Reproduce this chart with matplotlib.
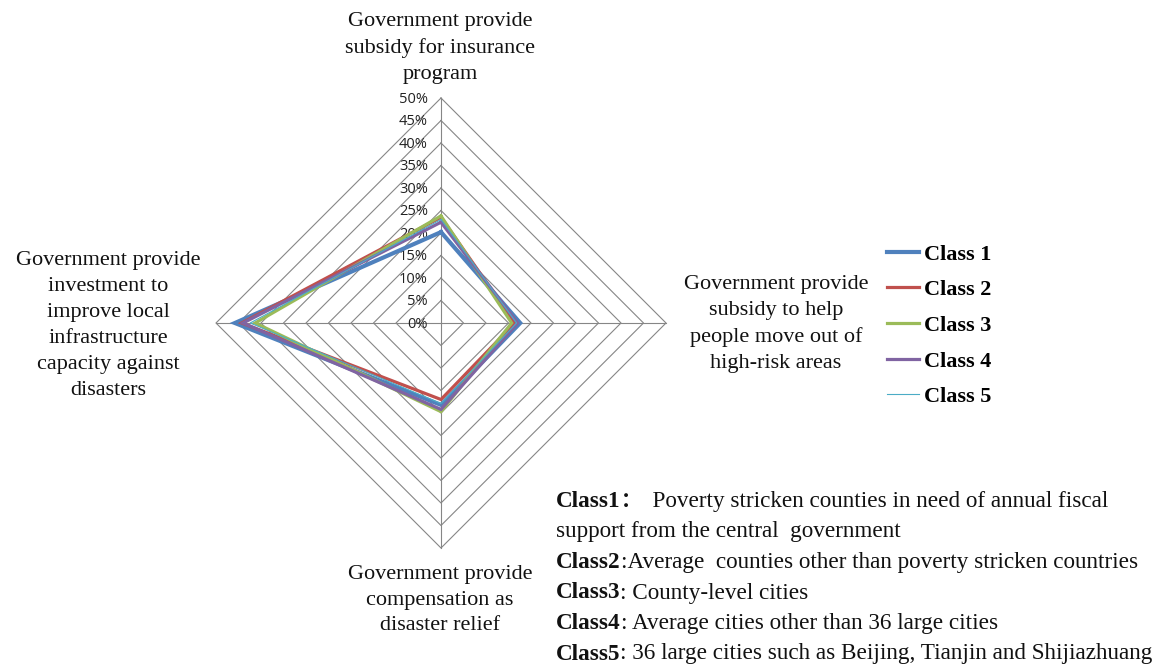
import numpy as np
import matplotlib
matplotlib.use("Agg")
import matplotlib.pyplot as plt

# Radar axes (clockwise from top)
categories = [
    "Government provide\nsubsidy for insurance\nprogram",
    "Government provide\nsubsidy to help\npeople move out of\nhigh-risk areas",
    "Government provide\ncompensation as\ndisaster relief",
    "Government provide\ninvestment to\nimprove local\ninfrastructure\ncapacity against\ndisasters",
]
series_names = ["Class 1", "Class 2", "Class 3", "Class 4", "Class 5"]
class1 = [20.2, 17.6, 18.2, 45.8]
class2 = [23.5, 16.4, 17.0, 44.3]
class3 = [23.8, 15.7, 19.7, 41.3]
class4 = [22.4, 17.0, 19.2, 44.0]
class5 = [23.0, 16.8, 17.9, 42.4]
tick_values = [0, 5, 10, 15, 20, 25, 30, 35, 40, 45, 50]
tick_labels = [f"{v}%" for v in tick_values]

notes = [
    ("Class1", "：", "  Poverty stricken counties in need of annual fiscal"),
    ("", "", "support from the central  government"),
    ("Class2", "", ":Average  counties other than poverty stricken countries"),
    ("Class3", "", ": County-level cities"),
    ("Class4", "", ": Average cities other than 36 large cities"),
    ("Class5", "", ": 36 large cities such as Beijing, Tianjin and Shijiazhuang"),
]

colors = ["#4F81BD", "#C0504D", "#9BBB59", "#8064A2", "#4BACC6"]
widths = [3.0, 2.3, 2.3, 2.3, 0.8]

W, H = 1165, 666
CX, CY, SCALE = 441, 323, 4.5  # centre pixel and pixels per percent

fig = plt.figure(figsize=(W / 100, H / 100), dpi=100)
ax = fig.add_axes([0, 0, 1, 1])
ax.set_xlim(-CX / SCALE, (W - CX) / SCALE)
ax.set_ylim(-(H - CY) / SCALE, CY / SCALE)
ax.axis("off")

# direction unit vectors: top, right, bottom, left
dirs = np.array([[0, 1], [1, 0], [0, -1], [-1, 0]], dtype=float)

grid_col = "#868686"
for v in tick_values[1:]:
    pts = np.vstack([dirs * v, dirs[:1] * v])
    ax.plot(pts[:, 0], pts[:, 1], color=grid_col, lw=0.8, zorder=1)
rmax = tick_values[-1]
for d in dirs:
    ax.plot([0, d[0] * rmax], [0, d[1] * rmax], color=grid_col, lw=0.8, zorder=1)

for v, lab in zip(tick_values, tick_labels):
    ax.text(-2.9, v - 0.25, lab, ha="right", va="center", fontsize=10.5,
            family="Open Sans", color="#222222")

lines = []
for name, vals, c, lw in zip(series_names, [class1, class2, class3, class4, class5], colors, widths):
    vals = np.asarray(vals)
    pts = dirs * vals[:, None]
    pts = np.vstack([pts, pts[:1]])
    ln, = ax.plot(pts[:, 0], pts[:, 1], color=c, lw=lw, solid_joinstyle="miter", zorder=3, label=name)
    lines.append(ln)

# category labels
label_pos = [(440, 48), (776, 324), (440, 600), (108, 325)]
for text, (px, py) in zip(categories, label_pos):
    fig.text(px / W, 1 - py / H, text, ha="center", va="center", fontsize=16,
             family="Liberation Serif", linespacing=1.5, color="#111111")

leg = ax.legend(handles=lines, loc="upper left", bbox_to_anchor=(887 / W, 1 - 244 / H),
                bbox_transform=fig.transFigure, frameon=False,
                prop={"family": "Liberation Serif", "weight": "bold", "size": 16},
                handlelength=1.45, handletextpad=0.2, labelspacing=0.68, borderpad=0,
                borderaxespad=0)

# notes block
fig.canvas.draw()
renderer = fig.canvas.get_renderer()
x0 = 556
base = 507
step = 30.5
fs = 16.7
for i, (bold, colon, rest) in enumerate(notes):
    y = 1 - (base + i * step) / H
    x = x0
    if bold:
        t = fig.text(x / W, y, bold, ha="left", va="baseline", fontsize=fs,
                     family="Liberation Serif", weight="bold", color="#111111")
        x = t.get_window_extent(renderer).x1
    if colon:
        t = fig.text(x / W, y, colon, ha="left", va="baseline", fontsize=fs - 2,
                     family=["Noto Sans CJK SC"], weight="bold", color="#111111")
        x = t.get_window_extent(renderer).x1
    fig.text(x / W, y, rest, ha="left", va="baseline", fontsize=fs,
             family="Liberation Serif", color="#111111")

fig.savefig("out.png", dpi=100)
